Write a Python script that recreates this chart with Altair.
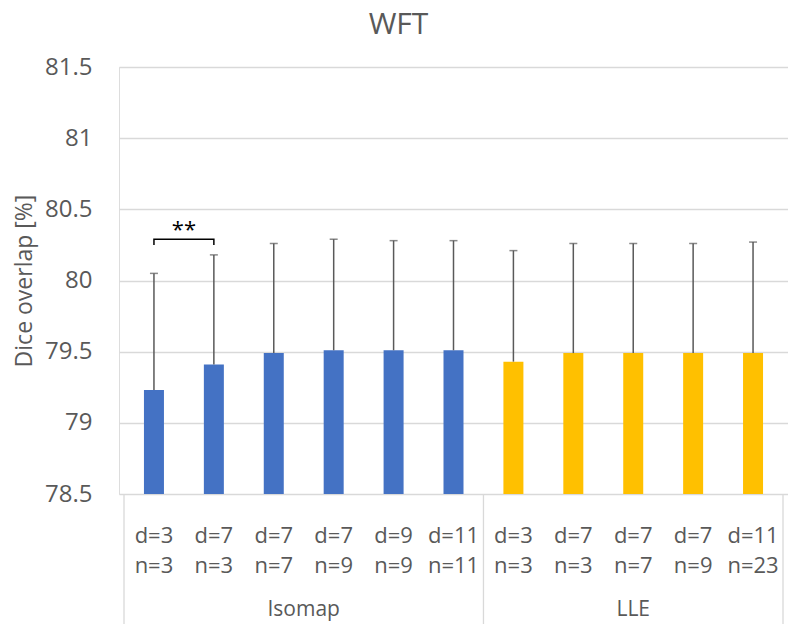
import altair as alt
import pandas as pd

# ---- data ----
methods = ["Isomap"] * 6 + ["LLE"] * 5
d_vals = [3, 7, 7, 7, 9, 11, 3, 7, 7, 7, 11]
n_vals = [3, 3, 7, 9, 9, 11, 3, 3, 7, 9, 23]
means = [79.23, 79.41, 79.49, 79.51, 79.51, 79.51, 79.43, 79.49, 79.49, 79.49, 79.49]
uppers = [80.05, 80.18, 80.26, 80.29, 80.28, 80.28, 80.21, 80.26, 80.26, 80.26, 80.27]
y_ticks = [78.5, 79, 79.5, 80, 80.5, 81, 81.5]
sig_pair = [0, 1]
sig_top = 80.29
sig_end = 80.25
sig_label = "**"
sig_label_y = 80.305

FONT = "Open Sans"
GRAY = "#595959"
GRID = "#D9D9D9"
COLORS = {"Isomap": "#4472C4", "LLE": "#FFC000"}
W, H = 669, 427
BOTTOM = 130

idx = list(range(len(means)))
df = pd.DataFrame({
    "idx": idx,
    "method": methods,
    "dlab": [f"d={d}" for d in d_vals],
    "nlab": [f"n={n}" for n in n_vals],
    "mean": means,
    "upper": uppers,
})

# group boundaries
bounds = sorted({-0.5, len(idx) - 0.5} | {
    max(i for i, m in zip(idx, methods) if m == g) + 0.5 for g in dict.fromkeys(methods)
})
df_sep = pd.DataFrame({"pos": bounds})

df_br = pd.DataFrame({
    "x": [sig_pair[0], sig_pair[0], sig_pair[1], sig_pair[1]],
    "y": [sig_end, sig_top, sig_top, sig_end],
    "o": [0, 1, 2, 3],
})
df_star = pd.DataFrame({"x": [sum(sig_pair) / 2], "y": [sig_label_y], "t": [sig_label]})

xs = alt.Scale(domain=[-0.5, len(idx) - 0.5], nice=False, zero=False)
ys = alt.Scale(domain=[78.5, 81.5], nice=False, zero=False)

base = alt.Chart(df)

bars = base.mark_bar(size=20).encode(
    x=alt.X("idx:Q", scale=xs, axis=None),
    y=alt.Y(
        "mean:Q",
        scale=ys,
        axis=alt.Axis(
            values=y_ticks,
            format="~g",
            title="Dice overlap [%]",
            ticks=False,
            domain=False,
            grid=True,
            gridColor=GRID,
            gridWidth=1.3,
            labelFont=FONT,
            labelFontSize=24,
            labelColor=GRAY,
            labelPadding=27,
            titleFont=FONT,
            titleFontSize=23,
            titleFontWeight="normal",
            titleColor=GRAY,
            titlePadding=8,
        ),
    ),
    y2=alt.datum(78.5),
    color=alt.Color(
        "method:N",
        scale=alt.Scale(domain=list(COLORS.keys()), range=list(COLORS.values())),
        legend=None,
    ),
)

err = base.mark_rule(color=GRAY, strokeWidth=1.5).encode(
    x=alt.X("idx:Q", scale=xs), y=alt.Y("mean:Q", scale=ys), y2="upper:Q"
)
caps = base.mark_tick(color=GRAY, thickness=1.5, size=8, orient="horizontal").encode(
    x=alt.X("idx:Q", scale=xs), y=alt.Y("upper:Q", scale=ys)
)

seps = alt.Chart(df_sep).mark_rule(color=GRID, strokeWidth=1.3).encode(
    x=alt.X("pos:Q", scale=xs), y=alt.value(H), y2=alt.value(H + BOTTOM)
)

dtext = base.mark_text(font=FONT, fontSize=22, color=GRAY, baseline="middle").encode(
    x=alt.X("idx:Q", scale=xs), y=alt.value(H + 42), text="dlab:N"
)
ntext = base.mark_text(font=FONT, fontSize=22, color=GRAY, baseline="middle").encode(
    x=alt.X("idx:Q", scale=xs), y=alt.value(H + 72), text="nlab:N"
)
gtext = base.transform_aggregate(c="mean(idx)", groupby=["method"]).mark_text(
    font=FONT, fontSize=21, color=GRAY, baseline="middle"
).encode(x=alt.X("c:Q", scale=xs), y=alt.value(H + 116), text="method:N")

bracket = alt.Chart(df_br).mark_line(color="black", strokeWidth=1.5).encode(
    x=alt.X("x:Q", scale=xs), y=alt.Y("y:Q", scale=ys), order="o:Q"
)
stars = alt.Chart(df_star).mark_text(
    font=FONT, fontSize=22, color="black", baseline="alphabetic"
).encode(x=alt.X("x:Q", scale=xs), y=alt.Y("y:Q", scale=ys), text="t:N")

chart = alt.layer(
    bars, err, caps, seps, dtext, ntext, gtext, bracket, stars
).properties(
    width=W,
    height=H,
    title=alt.Title(
        "WFT", font=FONT, fontSize=30, fontWeight="normal", color=GRAY,
        anchor="middle", dx=-55, offset=15,
    ),
    autosize=alt.AutoSizeParams(type="none"),
    padding={"left": 111, "top": 59, "right": 0, "bottom": BOTTOM},
).configure_view(stroke=None).configure(background="white")

chart.save("out.html", embed_options={"renderer": "svg", "actions": False})
